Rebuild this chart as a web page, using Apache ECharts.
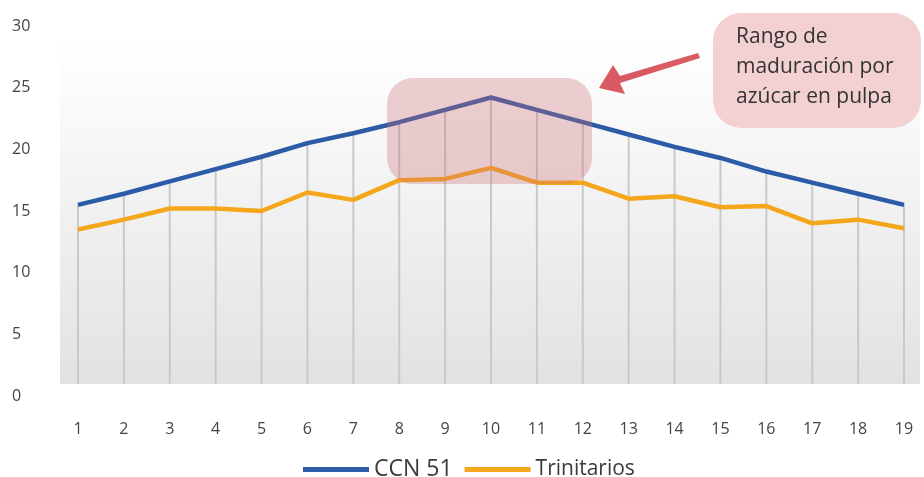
<!DOCTYPE html>
<html>
<head>
<meta charset="utf-8">
<script src="https://cdn.jsdelivr.net/npm/echarts@6/dist/echarts.min.js"></script>
<style>
  html, body { margin: 0; padding: 0; background: #fff; }
  #chart { width: 924px; height: 477px; }
</style>
</head>
<body>
<div id="chart"></div>
<script>
var categories = ['1','2','3','4','5','6','7','8','9','10','11','12','13','14','15','16','17','18','19'];
var ccn51 = [15.5, 16.4, 17.4, 18.4, 19.4, 20.5, 21.3, 22.2, 23.2, 24.2, 23.2, 22.2, 21.2, 20.2, 19.3, 18.2, 17.3, 16.4, 15.5];
var trinitarios = [13.5, 14.3, 15.2, 15.2, 15.0, 16.5, 15.9, 17.5, 17.6, 18.5, 17.3, 17.3, 16.0, 16.2, 15.3, 15.4, 14.0, 14.3, 13.6];
var yTicks = [0, 5, 10, 15, 20, 25, 30];
var noteLines = ['Rango de', 'maduración por', 'azúcar en pulpa'];

var font = 'Open Sans';
var chart = echarts.init(document.getElementById('chart'));

var option = {
    animation: false,
    grid: { left: 78, right: 20, top: 26, bottom: 81 },
    xAxis: {
        type: 'category',
        data: categories,
        boundaryGap: false,
        axisLine: { show: false },
        axisTick: { show: false },
        splitLine: { show: false },
        axisLabel: { color: '#444', fontSize: 16, fontFamily: font, margin: 25 }
    },
    yAxis: {
        type: 'value',
        min: yTicks[0],
        max: yTicks[yTicks.length - 1],
        interval: 5,
        axisLine: { show: false },
        axisTick: { show: false },
        splitLine: { show: false },
        axisLabel: { color: '#444', fontSize: 16, fontFamily: font, align: 'left', margin: 66 }
    },
    legend: {
        left: 298,
        top: 453,
        icon: 'rect',
        itemWidth: 66,
        itemHeight: 5,
        itemGap: 12,
        data: [
            { name: 'CCN 51', textStyle: { fontSize: 23 } },
            { name: 'Trinitarios', textStyle: { fontSize: 21 } }
        ],
        textStyle: { color: '#3a3a3a', fontFamily: font }
    },
    graphic: [
        {
            type: 'rect', z: -10,
            shape: { x: 60, y: 40, width: 860, height: 344 },
            style: {
                fill: new echarts.graphic.LinearGradient(0, 0, 0, 1, [
                    { offset: 0, color: '#ffffff' },
                    { offset: 0.25, color: '#f8f8f8' },
                    { offset: 1, color: '#e2e2e4' }
                ])
            }
        },
        {
            type: 'rect', z: 100,
            shape: { x: 387, y: 78, width: 205, height: 106, r: 26 },
            style: { fill: 'rgba(205,110,115,0.32)' }
        },
        {
            type: 'rect', z: 100,
            shape: { x: 713, y: 13, width: 208, height: 115, r: 28 },
            style: { fill: '#f3d1d2' }
        },
        {
            type: 'text', z: 101,
            x: 736, y: 22,
            style: {
                text: noteLines.join('\n'),
                fill: '#333',
                font: '21px "' + font + '"',
                lineHeight: 30
            }
        },
        {
            type: 'polygon', z: 101,
            shape: { points: [[698, 53], [620, 76], [613, 65], [599, 88], [625, 94], [620, 83], [700, 58]] },
            style: { fill: '#d95a62' }
        }
    ],
    series: [
        {
            type: 'custom',
            name: 'drop',
            z: 1,
            silent: true,
            data: ccn51.map(function (v, i) { return [i, v]; }),
            renderItem: function (params, api) {
                var top = api.coord([api.value(0), api.value(1)]);
                var bottom = api.coord([api.value(0), 0.97]);
                return {
                    type: 'line',
                    shape: { x1: top[0], y1: top[1], x2: bottom[0], y2: bottom[1] },
                    style: { stroke: '#c9c9cb', lineWidth: 2 }
                };
            }
        },
        {
            name: 'CCN 51',
            type: 'line',
            data: ccn51,
            symbol: 'none',
            z: 3,
            color: '#2c5ba7',
            lineStyle: { width: 4.5, color: '#2c5ba7' }
        },
        {
            name: 'Trinitarios',
            type: 'line',
            data: trinitarios,
            symbol: 'none',
            z: 3,
            color: '#f5a71c',
            lineStyle: { width: 4.5, color: '#f5a71c' }
        }
    ]
};
chart.setOption(option);
</script>
</body>
</html>
